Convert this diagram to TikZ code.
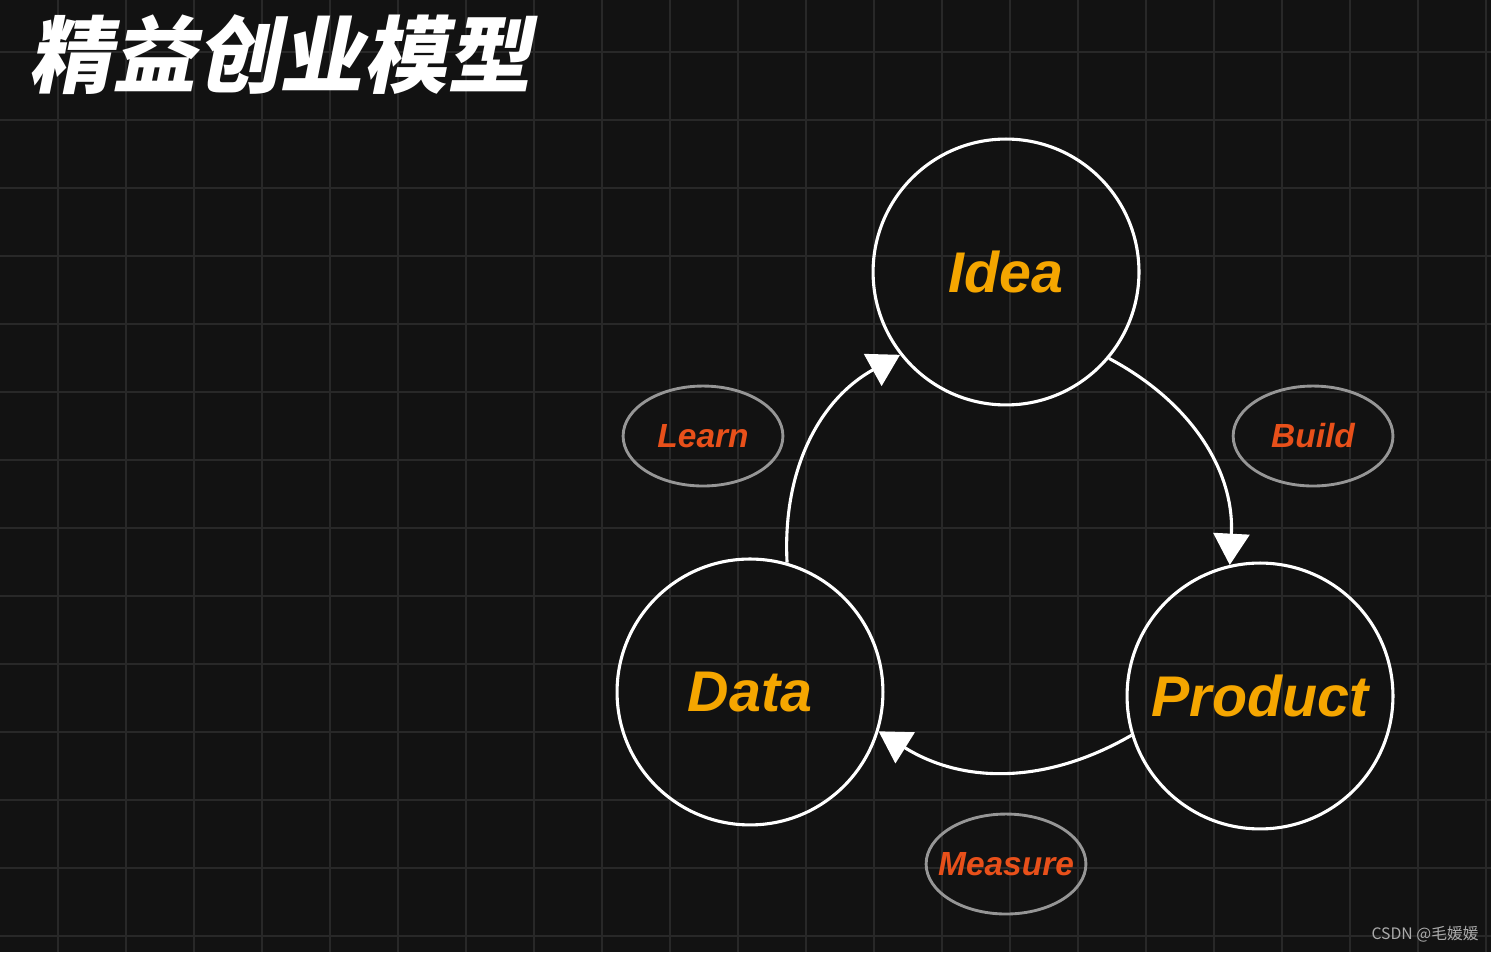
\documentclass[tikz,border=0pt]{standalone}
\usepackage{fontspec}
\setsansfont{Liberation Sans}
\newfontfamily\cjktitle{Noto Sans CJK SC}[FakeSlant=0.2]
\newfontfamily\cjkmark{Noto Sans CJK SC}
\usetikzlibrary{arrows.meta,shapes.geometric}
\definecolor{bgdark}{RGB}{18,18,18}
\definecolor{gridgray}{RGB}{40,40,40}
\definecolor{ideaorange}{RGB}{245,166,0}
\definecolor{phasered}{RGB}{232,80,26}
\definecolor{ringgray}{RGB}{150,150,150}

\begin{document}
\begin{tikzpicture}[
  stagenode/.style={circle, draw=white, line width=1.3pt, minimum size=3.91cm,
    text=ideaorange, font=\sffamily\bfseries\itshape\fontsize{24}{28}\selectfont},
  phasenode/.style={ellipse, draw=ringgray, line width=1.2pt, inner xsep=-0.2cm,
    inner ysep=0pt, minimum width=2.35cm, minimum height=1.47cm, text=phasered,
    font=\sffamily\bfseries\itshape\fontsize{14}{16}\selectfont},
  cyclearrow/.style={white, line width=1.3pt, -{Triangle[width=0.53cm,length=0.46cm]}}]
  % background and grid
  \fill[bgdark] (0,0) rectangle (21.926,14);
  \useasboundingbox (0,0) rectangle (21.926,14);
  \foreach \x in {0,...,21}
    \draw[gridgray, line width=0.9pt] (\x+0.853,0) -- ++(0,14);
  \foreach \y in {0,...,13}
    \draw[gridgray, line width=0.9pt] (0,\y+0.235) -- ++(21.926,0);

  \node[anchor=west, text=white, font=\cjktitle\bfseries\fontsize{35}{40}\selectfont]
    (title) at (0.3,13.2) {精益创业模型};

  % the three stages
  \node[stagenode] (idea) at (14.794,10.0) {Idea};
  \node[stagenode] (data) at (11.029,3.824) {Data};
  \node[stagenode] (product) at (18.529,3.765) {Product};

  % the three phases
  \node[phasenode] (learn) at (10.338,7.588) {Learn};
  \node[phasenode] (build) at (19.309,7.588) {Build};
  \node[phasenode] (measure) at (14.794,1.294) {Measure};

  % the loop
  \draw[cyclearrow] (idea.-40) to[out=-28, in=87] (product.103);
  \draw[cyclearrow] (product.197) to[out=-150, in=-32] (data.-17);
  \draw[cyclearrow] (data.74) to[out=93, in=209] (idea.218);

  \node[text=ringgray!80!white, font=\cjkmark\fontsize{6.6}{8}\selectfont]
    (mark) at (20.956,0.265) {CSDN @毛媛媛};
\end{tikzpicture}
\end{document}
